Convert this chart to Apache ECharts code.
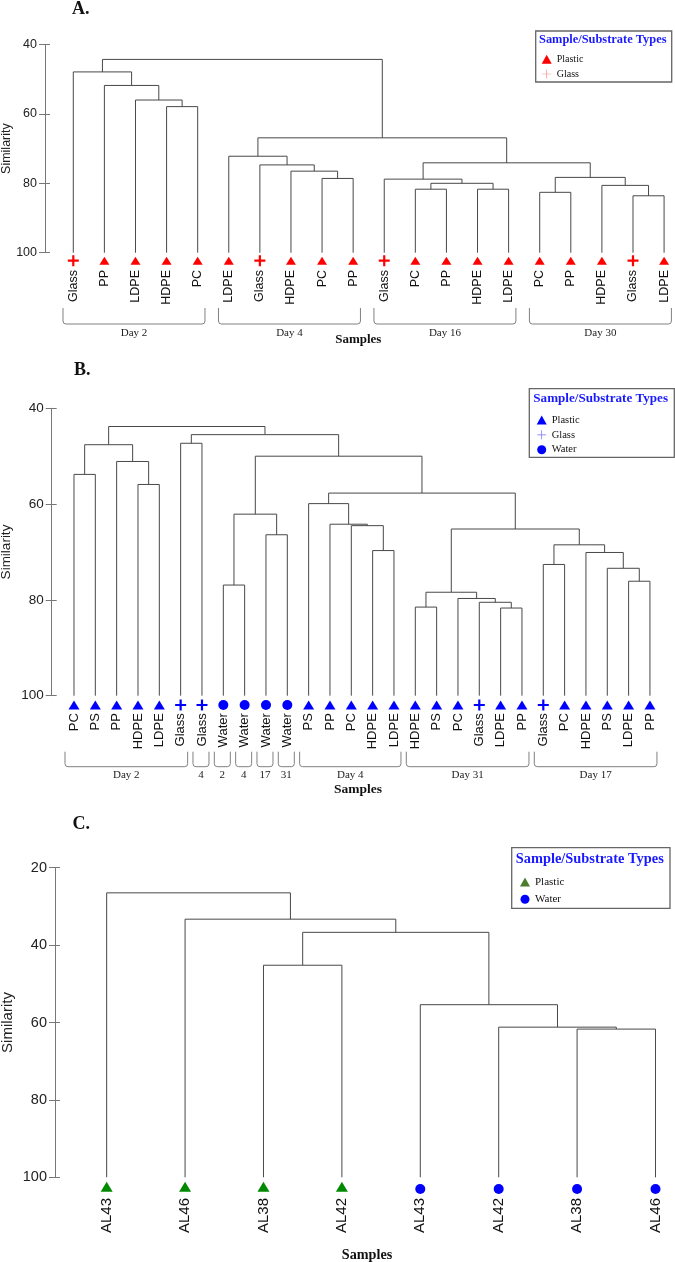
<!DOCTYPE html>
<html><head><meta charset="utf-8">
<script src="https://cdn.jsdelivr.net/npm/echarts@6/dist/echarts.min.js"></script>
<style>html,body{margin:0;padding:0;background:#fff}#c{width:675px;height:1262px}</style>
</head><body><div id="c"></div>
<script>
// ---------- DATA ----------
// Panel A
const leavesA = ['Glass','PP','LDPE','HDPE','PC','LDPE','Glass','HDPE','PC','PP','Glass','PC','PP','HDPE','LDPE','PC','PP','HDPE','Glass','LDPE'];
const typesA  = ['Glass','Plastic','Plastic','Plastic','Plastic','Plastic','Glass','Plastic','Plastic','Plastic','Glass','Plastic','Plastic','Plastic','Plastic','Plastic','Plastic','Plastic','Glass','Plastic'];
// merges: [childA, childB, similarity]; leaves are 0..n-1, new clusters n, n+1, ...
const mergesA = [[3,4,57.9],[2,20,56.0],[1,21,51.8],[0,22,47.9],
  [8,9,78.6],[7,24,76.5],[6,25,74.7],[5,26,72.2],
  [11,12,81.7],[13,14,81.7],[28,29,80.0],[10,30,78.8],
  [15,16,82.6],[18,19,83.6],[17,33,80.6],[32,34,78.3],
  [31,35,74.1],[27,36,66.9],[23,37,44.3]];
const groupsA = [['Day 2',0,4],['Day 4',5,9],['Day 16',10,14],['Day 30',15,19]];
const yTicksA = [40,60,80,100];

// Panel B
const leavesB = ['PC','PS','PP','HDPE','LDPE','Glass','Glass','Water','Water','Water','Water','PS','PP','PC','HDPE','LDPE','HDPE','PS','PC','Glass','LDPE','PP','Glass','PC','HDPE','PS','LDPE','PP'];
const typesB  = ['Plastic','Plastic','Plastic','Plastic','Plastic','Glass','Glass','Water','Water','Water','Water','Plastic','Plastic','Plastic','Plastic','Plastic','Plastic','Plastic','Plastic','Glass','Plastic','Plastic','Glass','Plastic','Plastic','Plastic','Plastic','Plastic'];
const mergesB = [[0,1,53.8],[3,4,55.9],[2,29,51.1],[28,30,47.6],
  [5,6,47.3],[7,8,76.9],[9,10,66.4],[33,34,62.1],
  [14,15,69.7],[13,36,64.5],[12,37,64.2],[11,38,59.9],
  [16,17,81.5],[20,21,81.7],[19,41,80.5],[18,42,79.7],[40,43,78.4],
  [26,27,76.1],[25,45,73.4],[24,46,70.1],[22,23,72.6],[48,47,68.5],
  [44,49,65.2],[39,50,57.7],[35,51,50.0],[32,52,45.5],[31,53,43.8]];
const groupsB = [['Day 2',0,5],['4',6,6],['2',7,7],['4',8,8],['17',9,9],['31',10,10],['Day 4',11,15],['Day 31',16,21],['Day 17',22,27]];
const yTicksB = [40,60,80,100];

// Panel C
const leavesC = ['AL43','AL46','AL38','AL42','AL43','AL42','AL38','AL46'];
const typesC  = ['Plastic','Plastic','Plastic','Plastic','Water','Water','Water','Water'];
const mergesC = [[6,7,61.7],[5,8,61.2],[4,9,55.4],[2,3,45.2],[11,10,36.7],[1,12,33.3],[0,13,26.5]];
const groupsC = [];
const yTicksC = [20,40,60,80,100];

// ---------- LAYOUT / STYLE ----------
const SERIF = 'Liberation Serif, Times New Roman, serif';
const SANS = 'Liberation Sans, Arial, sans-serif';
const LINE = '#484848';
const CROSS = 'path://M4,0H6V10H4ZM0,4H10V6H0Z';
const CROSS_THIN = 'path://M4.6,0H5.4V10H4.6ZM0,4.6H10V5.4H0Z';

const panels = [
  {key:'A', leaves:leavesA, types:typesA, merges:mergesA, groups:groupsA, ticks:yTicksA,
   grid:{left:45, top:44.5, width:625, height:208.2}, xmin:-0.91, xmax:19.19,
   tickFont:12.5, nameFont:12.5, nameGap:31.7, leafFont:12.5, labelDy:17.3,
   colors:{Plastic:'#ff0000', Glass:'#ff0000'}, legendColors:{Plastic:'#ff0000', Glass:'#ff8a8a'},
   sym:{Plastic:['triangle',[10,8],8], Glass:[CROSS,[11,11],8]},
   br:{l:10.3, r:7.3, top:55.3, bot:71.3, text:80, font:11}},
  {key:'B', leaves:leavesB, types:typesB, merges:mergesB, groups:groupsB, ticks:yTicksB,
   grid:{left:51.7, top:408.3, width:618.3, height:287.4}, xmin:-1.045, xmax:27.94,
   tickFont:13.5, nameFont:13.5, nameGap:38.4, leafFont:13, labelDy:17.5,
   colors:{Plastic:'#0000ff', Glass:'#0000ff', Water:'#0000ff'}, legendColors:{Plastic:'#0000ff', Glass:'#7070ff', Water:'#0000ff'},
   sym:{Plastic:['triangle',[11,9],9.3], Glass:[CROSS,[11,11],9.3], Water:['circle',[10,10],9.3]},
   br:{l:9, r:7, top:56, bot:71, text:79.5, font:11}},
  {key:'C', leaves:leavesC, types:typesC, merges:mergesC, groups:groupsC, ticks:yTicksC,
   grid:{left:55, top:867.7, width:615, height:309.6}, xmin:-0.659, xmax:7.185,
   tickFont:14.5, nameFont:15, nameGap:40, leafFont:15, labelDy:20.7,
   colors:{Plastic:'#008a00', Water:'#0000ff'}, legendColors:{Plastic:'#4a7c2c', Water:'#0000ff'},
   sym:{Plastic:['triangle',[12,10],9.4], Water:['circle',[10,10],11.7]},
   br:null}
];

function buildLinks(n, merges){
  const pos = [], hgt = [];
  for (let i=0;i<n;i++){ pos.push(i); hgt.push(100); }
  const links = [];
  merges.forEach(m => {
    const [a,b,h] = m;
    links.push([pos[a], hgt[a], pos[b], hgt[b], h]);
    pos.push((pos[a]+pos[b])/2); hgt.push(h);
  });
  return links;
}

const grids=[], xAxes=[], yAxes=[], yInner=[], series=[];
panels.forEach((P, gi) => {
  const ymin = P.ticks[0], ymax = P.ticks[P.ticks.length-1];
  const bottom = ymax;
  grids.push(Object.assign({containLabel:false, outerBoundsMode:'none'}, P.grid));
  xAxes.push({gridIndex:gi, type:'value', min:P.xmin, max:P.xmax, show:false});
  yAxes.push({gridIndex:gi, type:'value', position:'left', inverse:true, min:ymin, max:ymax, interval:P.ticks[1]-P.ticks[0],
    name:'Similarity', nameLocation:'middle', nameGap:P.nameGap, nameMoveOverlap:false,
    nameTextStyle:{fontFamily:SANS, fontSize:P.nameFont, color:'#222'},
    axisLine:{show:true, onZero:false, lineStyle:{color:'#777', width:1}},
    axisTick:{show:true, length:6, lineStyle:{color:'#777'}},
    axisLabel:{fontFamily:SANS, fontSize:P.tickFont, color:'#222', margin:8},
    splitLine:{show:false}});
  // inner half of the crossing ticks
  yInner.push({gridIndex:gi, type:'value', position:'left', inverse:true, min:ymin, max:ymax, interval:P.ticks[1]-P.ticks[0],
    axisLine:{show:false, onZero:false}, axisTick:{show:true, inside:true, length:5, lineStyle:{color:'#777'}},
    axisLabel:{show:false}, splitLine:{show:false}});

  const links = buildLinks(P.leaves.length, P.merges);
  series.push({type:'custom', name:P.key+'-links', xAxisIndex:gi, yAxisIndex:gi, silent:true, clip:false,
    data:links, encode:{x:[0,2], y:[1,3,4]},
    renderItem:(params, api) => {
      const p1 = api.coord([api.value(0), api.value(1)]);
      const p2 = api.coord([api.value(0), api.value(4)]);
      const p3 = api.coord([api.value(2), api.value(4)]);
      const p4 = api.coord([api.value(2), api.value(3)]);
      return {type:'polyline', shape:{points:[p1,p2,p3,p4]}, style:{stroke:LINE, lineWidth:1, fill:null}};
    }});

  // leaf labels
  series.push({type:'custom', name:P.key+'-leaflabels', xAxisIndex:gi, yAxisIndex:gi, silent:true, clip:false,
    data:P.leaves.map((l,i)=>[i,bottom]), encode:{x:0,y:1},
    renderItem:(params, api) => {
      const p = api.coord([api.value(0), api.value(1)]);
      return {type:'text', x:p[0], y:p[1]+P.labelDy, rotation:Math.PI/2,
        style:{text:P.leaves[params.dataIndex], x:0, y:0, font:P.leafFont+'px '+SANS, fill:'#111',
          align:'right', verticalAlign:'middle', textAlign:'right', textVerticalAlign:'middle'}};
    }});

  // group brackets
  if (P.br && P.groups.length){
    const B = P.br;
    series.push({type:'custom', name:P.key+'-groups', xAxisIndex:gi, yAxisIndex:gi, silent:true, clip:false,
      data:P.groups.map(g=>[g[1], g[2], bottom]), encode:{x:[0,1], y:2},
      renderItem:(params, api) => {
        const g = P.groups[params.dataIndex];
        const pl = api.coord([api.value(0), api.value(2)]);
        const pr = api.coord([api.value(1), api.value(2)]);
        const x1 = pl[0]-B.l, x2 = pr[0]+B.r, yt = pl[1]+B.top, yb = pl[1]+B.bot;
        return {type:'group', children:[
          {type:'path', shape:{pathData:'M'+x1+','+yt+' L'+x1+','+(yb-3)+' Q'+x1+','+yb+' '+(x1+3)+','+yb+' L'+(x2-3)+','+yb+' Q'+x2+','+yb+' '+x2+','+(yb-3)+' L'+x2+','+yt},
           style:{stroke:'#808080', lineWidth:1, fill:null}},
          {type:'text', x:(x1+x2)/2, y:pl[1]+B.text,
           style:{text:g[0], x:0, y:0, font:B.font+'px '+SERIF, fill:'#222', align:'center', verticalAlign:'middle', textAlign:'center', textVerticalAlign:'middle'}}
        ]};
      }});
  }

  // leaf markers, one scatter per type
  Object.keys(P.sym).forEach(t => {
    const s = P.sym[t];
    const d = [];
    P.types.forEach((ty,i)=>{ if (ty===t) d.push([i,bottom]); });
    series.push({type:'scatter', name:P.key+'|'+t, xAxisIndex:gi, yAxisIndex:gi, clip:false, silent:true,
      symbol:s[0], symbolSize:s[1], symbolOffset:[0,s[2]], data:d,
      itemStyle:{color:P.colors[t], opacity:1}});
  });
});

const legendFmt = n => n.split('|')[1];
const iconOf = {Plastic:'triangle', Glass:CROSS_THIN, Water:'circle'};
function mkLegend(P, left, top, gap, font, lh){
  return {left:left, top:top, orient:'vertical', padding:0, itemWidth:10, itemHeight:9, itemGap:gap,
    selectedMode:false, formatter:legendFmt,
    textStyle:{fontFamily:SERIF, fontSize:font, color:'#111', lineHeight:lh},
    data:Object.keys(P.sym).map(t=>({name:P.key+'|'+t, icon:iconOf[t], itemStyle:{color:P.legendColors[t]}}))};
}
const legends = [
  mkLegend(panels[0], 541.7, 53.3, 2.7, 10, 12),
  mkLegend(panels[1], 536.7, 414, 2.85, 10.5, 12),
  mkLegend(panels[2], 520, 876, 5.3, 11, 12)
];

function txt(x, y, s, font, color, align){
  return {type:'text', x:x, y:y, silent:true,
    style:{text:s, x:0, y:0, font:font, fill:color, align:align||'left', verticalAlign:'middle', textAlign:align||'left', textVerticalAlign:'middle'}};
}
function box(x1,y1,x2,y2){
  return {type:'rect', silent:true, shape:{x:x1, y:y1, width:x2-x1, height:y2-y1}, style:{fill:'#fff', stroke:'#666', lineWidth:1.3}, z:-1};
}
const graphic = [
  txt(72, 9, 'A.', 'bold 18px '+SERIF, '#111'),
  txt(74, 370, 'B.', 'bold 18px '+SERIF, '#111'),
  txt(72.5, 824, 'C.', 'bold 18px '+SERIF, '#111'),
  box(535.7, 31, 671.7, 82),
  txt(539, 40, 'Sample/Substrate Types', 'bold 12.4px '+SERIF, '#1a1aff'),
  box(529.3, 388.7, 674.3, 457.3),
  txt(533.3, 399, 'Sample/Substrate Types', 'bold 13.1px '+SERIF, '#1a1aff'),
  box(511.7, 847.7, 670, 908.3),
  txt(515.7, 859.3, 'Sample/Substrate Types', 'bold 14.4px '+SERIF, '#1a1aff'),
  txt(358.3, 340, 'Samples', 'bold 13px '+SERIF, '#111', 'center'),
  txt(358, 790, 'Samples', 'bold 13.5px '+SERIF, '#111', 'center'),
  txt(367, 1255, 'Samples', 'bold 14.2px '+SERIF, '#111', 'center')
];

const chart = echarts.init(document.getElementById('c'), null, {renderer:'canvas'});
chart.setOption({
  animation:false, backgroundColor:'#fff',
  grid:grids, xAxis:xAxes, yAxis:yAxes.concat(yInner), series:series, legend:legends, graphic:graphic
});
</script></body></html>
